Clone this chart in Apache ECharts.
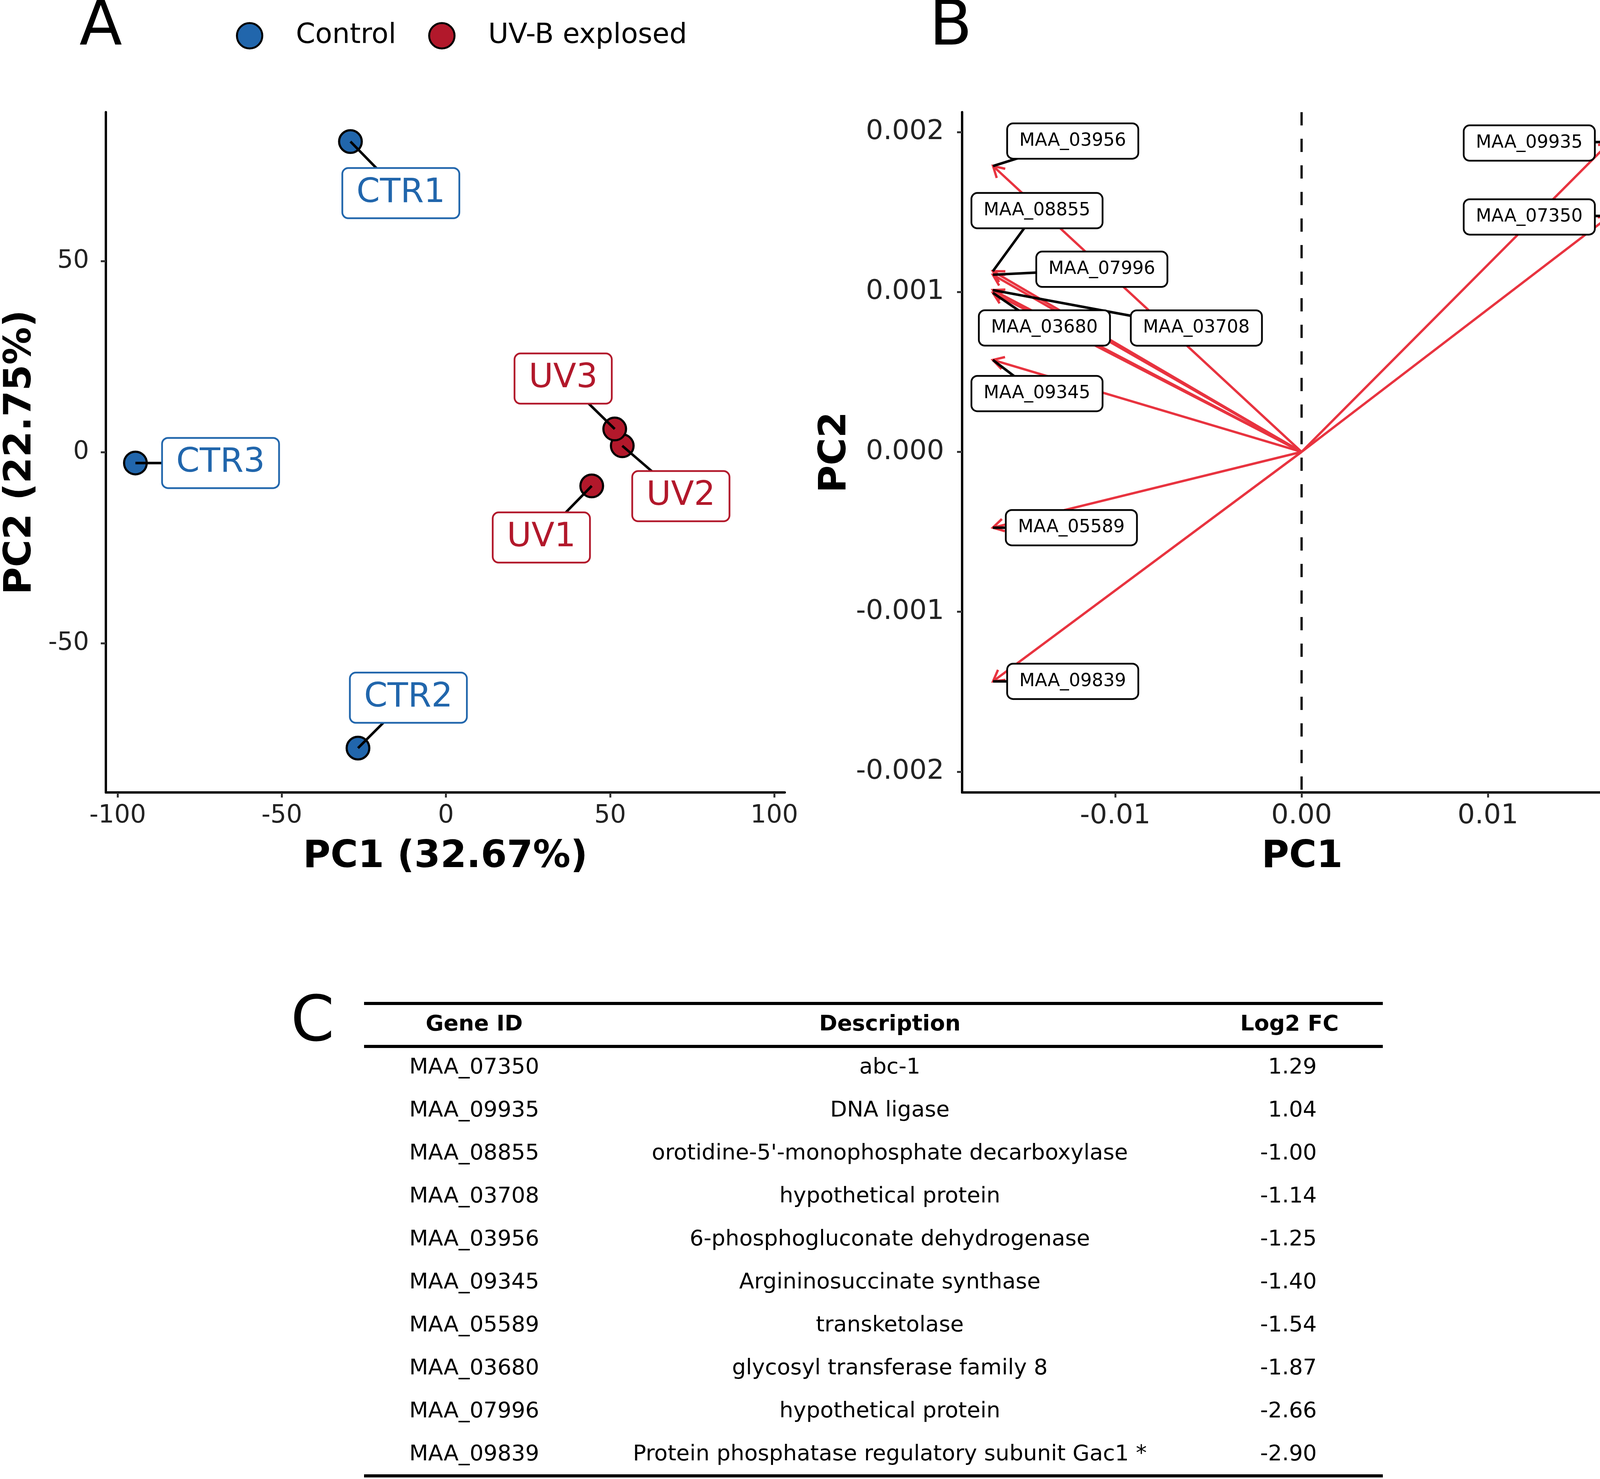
<!DOCTYPE html>
<html><head><meta charset="utf-8">
<script src="https://cdn.jsdelivr.net/npm/echarts@6/dist/echarts.min.js"></script>
<style>html,body{margin:0;padding:0;background:#fff}#c{width:4212px;height:3785px}</style>
</head><body><div id="c"></div>
<script>
// ---------------- data ----------------
const sampleNames = ['CTR1', 'CTR2', 'CTR3', 'UV1', 'UV2', 'UV3'];
const sampleGroup = ['Control', 'Control', 'Control', 'UV-B explosed', 'UV-B explosed', 'UV-B explosed'];
const samplePC1 = [-29.1, -26.8, -94.6, 44.4, 53.7, 51.4];
const samplePC2 = [81.3, -77.4, -2.8, -8.8, 1.7, 6.1];
const groups = ['Control', 'UV-B explosed'];
const pcaXTitle = 'PC1 (32.67%)';
const pcaYTitle = 'PC2 (22.75%)';

const geneNames = ['MAA_07350', 'MAA_09935', 'MAA_08855', 'MAA_03708', 'MAA_03956', 'MAA_09345', 'MAA_05589', 'MAA_03680', 'MAA_07996', 'MAA_09839'];
const loadPC1 = [0.01656, 0.01656, -0.01657, -0.01657, -0.01656, -0.01657, -0.01657, -0.01657, -0.01657, -0.01656];
const loadPC2 = [0.001477, 0.001939, 0.001130, 0.001012, 0.001788, 0.000575, -0.000474, 0.000995, 0.001108, -0.001435];

const tableHeader = ['Gene ID', 'Description', 'Log2 FC'];
const tableGeneId = ['MAA_07350', 'MAA_09935', 'MAA_08855', 'MAA_03708', 'MAA_03956', 'MAA_09345', 'MAA_05589', 'MAA_03680', 'MAA_07996', 'MAA_09839'];
const tableDesc = ['abc-1', 'DNA ligase', "orotidine-5'-monophosphate decarboxylase", 'hypothetical protein', '6-phosphogluconate dehydrogenase', 'Argininosuccinate synthase', 'transketolase', 'glycosyl transferase family 8', 'hypothetical protein', 'Protein phosphatase regulatory subunit Gac1 *'];
const tableLog2FC = [1.29, 1.04, -1.00, -1.14, -1.25, -1.40, -1.54, -1.87, -2.66, -2.90];

const ticksAx = [-100, -50, 0, 50, 100];
const ticksAy = [-50, 0, 50];
const ticksBx = [-0.01, 0, 0.01];
const ticksBy = [-0.002, -0.001, 0, 0.001, 0.002];

// ---------------- layout / style ----------------
const FONT = 'DejaVu Sans';
const groupColor = { 'Control': '#2166AC', 'UV-B explosed': '#B2182B' };
const arrowColor = '#E8333F';
// label box offsets (px, from point / arrow tip to label centre) — repel layout
const labelOffA = { CTR1: [129, 132], CTR2: [129, -129], CTR3: [218, 0], UV1: [-129, 132], UV2: [150, 129], UV3: [-132, -129] };
const labelOffB = { MAA_03956: [204, -64], MAA_08855: [113, -155], MAA_07996: [279, -14], MAA_03708: [521, 97], MAA_03680: [132, 90], MAA_09345: [113, 86], MAA_05589: [201, 0], MAA_09839: [204, 0], MAA_09935: [-207, 3], MAA_07350: [-207, 3] };

const mctx = document.createElement('canvas').getContext('2d');
function textW(t, size, weight) { mctx.font = (weight || 'normal') + ' ' + size + 'px "' + FONT + '"'; return mctx.measureText(t).width; }
function boxEdge(p, c, hw, hh) {
  const dx = p[0] - c[0], dy = p[1] - c[1];
  const tx = dx === 0 ? Infinity : hw / Math.abs(dx);
  const ty = dy === 0 ? Infinity : hh / Math.abs(dy);
  const t = Math.min(tx, ty, 1);
  return [c[0] + dx * t, c[1] + dy * t];
}

function axisBase(labelSize) {
  return {
    type: 'value',
    nameLocation: 'middle',
    nameTextStyle: { fontSize: 96, fontWeight: 'bold', color: '#000', fontFamily: FONT },
    axisLine: { show: true, onZero: false, lineStyle: { color: '#000', width: 6 } },
    axisTick: { show: true, length: 13, lineStyle: { color: '#333', width: 5 } },
    axisLabel: { fontSize: labelSize, color: '#222', fontFamily: FONT },
    splitLine: { show: false }
  };
}

const xA = Object.assign(axisBase(64), { gridIndex: 0, min: -103.6, max: 103.2, name: pcaXTitle, nameGap: 118 });
xA.axisLabel = Object.assign(xA.axisLabel, { margin: 28, customValues: ticksAx });
xA.axisTick = Object.assign(xA.axisTick, { customValues: ticksAx });
const yA = Object.assign(axisBase(64), { gridIndex: 0, min: -89, max: 89, name: pcaYTitle, nameGap: 170 });
yA.axisLabel = Object.assign(yA.axisLabel, { margin: 43, customValues: ticksAy });
yA.axisTick = Object.assign(yA.axisTick, { customValues: ticksAy });
const xB = Object.assign(axisBase(70), { gridIndex: 1, min: -0.01822, max: 0.01828, name: 'PC1', nameGap: 118 });
xB.axisLabel = Object.assign(xB.axisLabel, { margin: 26, customValues: ticksBx, formatter: v => v.toFixed(2) });
xB.axisTick = Object.assign(xB.axisTick, { customValues: ticksBx });
const yB = Object.assign(axisBase(70), { gridIndex: 1, min: -0.00213, max: 0.002125, name: 'PC2', nameGap: 274 });
yB.axisLabel = Object.assign(yB.axisLabel, { margin: 46, customValues: ticksBy, formatter: v => v.toFixed(3) });
yB.axisTick = Object.assign(yB.axisTick, { customValues: ticksBy });

const series = [];
groups.forEach(g => {
  const d = [];
  sampleNames.forEach((n, i) => { if (sampleGroup[i] === g) d.push([samplePC1[i], samplePC2[i]]); });
  series.push({
    name: g, type: 'scatter', xAxisIndex: 0, yAxisIndex: 0, data: d, z: 2,
    symbol: 'circle', symbolSize: 58,
    itemStyle: { color: groupColor[g], borderColor: '#000', borderWidth: 5.5, opacity: 1 },
    emphasis: { disabled: true }
  });
});
// sample labels (panel A)
const fA = 86, padA = [19, 34];
series.push({
  type: 'custom', xAxisIndex: 0, yAxisIndex: 0, z: 5, clip: false, silent: true,
  data: sampleNames.map((n, i) => [samplePC1[i], samplePC2[i]]),
  renderItem(params, api) {
    const i = params.dataIndex;
    const p = api.coord([api.value(0), api.value(1)]);
    const name = sampleNames[i];
    const col = groupColor[sampleGroup[i]];
    const off = labelOffA[name];
    const c = [p[0] + off[0], p[1] + off[1]];
    const hw = textW(name, fA) / 2 + padA[1], hh = fA / 2 + padA[0];
    const b = boxEdge(p, c, hw, hh);
    return { type: 'group', children: [
      { type: 'line', shape: { x1: p[0], y1: p[1], x2: b[0], y2: b[1] }, style: { stroke: '#000', lineWidth: 6.5 } },
      { type: 'text', x: c[0], y: c[1], style: { text: name, fill: col, fontSize: fA, fontFamily: FONT, lineHeight: fA, align: 'center', verticalAlign: 'middle', backgroundColor: '#fff', borderColor: col, borderWidth: 4.5, borderRadius: 13, padding: padA } }
    ] };
  }
});
// dashed zero line (panel B)
series.push({
  type: 'custom', xAxisIndex: 1, yAxisIndex: 1, z: 1, silent: true, clip: false,
  data: [[0, 0]],
  renderItem(params, api) {
    const p = api.coord([0, 0]);
    const cs = params.coordSys;
    return { type: 'line', shape: { x1: p[0], y1: cs.y, x2: p[0], y2: cs.y + cs.height }, style: { stroke: '#1a1a1a', lineWidth: 6, lineDash: [34, 34], fill: 'none' } };
  }
});
// loading arrows
series.push({
  type: 'custom', xAxisIndex: 1, yAxisIndex: 1, z: 3, silent: true, clip: false,
  data: geneNames.map((n, i) => [loadPC1[i], loadPC2[i]]),
  renderItem(params, api) {
    const o = api.coord([0, 0]);
    const t = api.coord([api.value(0), api.value(1)]);
    const ang = Math.atan2(t[1] - o[1], t[0] - o[0]);
    const L = 32, a = Math.PI / 6;
    const h1 = [t[0] - L * Math.cos(ang - a), t[1] - L * Math.sin(ang - a)];
    const h2 = [t[0] - L * Math.cos(ang + a), t[1] - L * Math.sin(ang + a)];
    return { type: 'group', children: [
      { type: 'line', shape: { x1: o[0], y1: o[1], x2: t[0], y2: t[1] }, style: { stroke: arrowColor, lineWidth: 6, fill: 'none' } },
      { type: 'polyline', shape: { points: [h1, t, h2] }, style: { stroke: arrowColor, lineWidth: 6, fill: 'none' } }
    ] };
  }
});
// gene labels (panel B)
const fB = 46, padB = [20, 29];
series.push({
  type: 'custom', xAxisIndex: 1, yAxisIndex: 1, z: 6, silent: true, clip: false,
  data: geneNames.map((n, i) => [loadPC1[i], loadPC2[i]]),
  renderItem(params, api) {
    const i = params.dataIndex;
    const name = geneNames[i];
    const t = api.coord([api.value(0), api.value(1)]);
    const off = labelOffB[name];
    const c = [t[0] + off[0], t[1] + off[1]];
    const hw = textW(name, fB) / 2 + padB[1], hh = fB / 2 + padB[0];
    const b = boxEdge(t, c, hw, hh);
    return { type: 'group', children: [
      { type: 'line', shape: { x1: t[0], y1: t[1], x2: b[0], y2: b[1] }, style: { stroke: '#000', lineWidth: 6.5, fill: 'none' } },
      { type: 'text', x: c[0], y: c[1], style: { text: name, fill: '#000', fontSize: fB, fontFamily: FONT, lineHeight: fB, align: 'center', verticalAlign: 'middle', backgroundColor: '#fff', borderColor: '#000', borderWidth: 4.5, borderRadius: 13, padding: padB } }
    ] };
  }
});

// ---------------- panel letters & table (panel C) ----------------
const graphics = [];
const letters = [['A', 258, 72], ['B', 2434, 72], ['C', 800, 2621]];
letters.forEach(l => graphics.push({ type: 'text', x: l[1], y: l[2], style: { text: l[0], fontSize: 160, fontFamily: FONT, fill: '#000', align: 'center', verticalAlign: 'middle' } }));
const tL = 932, tR = 3540, lineT = 2568, lineH = 2678, lineBot = 3777, headY = 2622, row0 = 2732, rowH = 110.1;
const colGene = 1214, colDesc = 2278, colFCHead = 3301, colFCRight = 3371;
[lineT, lineH, lineBot].forEach(y => graphics.push({ type: 'rect', shape: { x: tL, y: y - 4, width: tR - tL, height: 8 }, style: { fill: '#000' } }));
const headX = [colGene, colDesc, colFCHead];
tableHeader.forEach((h, j) => graphics.push({ type: 'text', x: headX[j], y: headY, style: { text: h, fontSize: 56, fontWeight: 'bold', fontFamily: FONT, fill: '#000', align: 'center', verticalAlign: 'middle' } }));
tableGeneId.forEach((g, i) => {
  const y = row0 + rowH * i;
  graphics.push({ type: 'text', x: colGene, y: y, style: { text: g, fontSize: 56, fontFamily: FONT, fill: '#000', align: 'center', verticalAlign: 'middle' } });
  graphics.push({ type: 'text', x: colDesc, y: y, style: { text: tableDesc[i], fontSize: 56, fontFamily: FONT, fill: '#000', align: 'center', verticalAlign: 'middle' } });
  graphics.push({ type: 'text', x: colFCRight, y: y, style: { text: tableLog2FC[i].toFixed(2), fontSize: 56, fontFamily: FONT, fill: '#000', align: 'right', verticalAlign: 'middle' } });
});

const chart = echarts.init(document.getElementById('c'), null, { renderer: 'canvas' });
chart.setOption({
  backgroundColor: '#fff',
  animation: false,
  textStyle: { fontFamily: FONT },
  legend: {
    data: groups, top: 51, left: 599, itemWidth: 65, itemHeight: 65, itemGap: 82, icon: 'circle', selectedMode: false,
    itemStyle: { borderColor: '#000', borderWidth: 5 },
    textStyle: { fontSize: 71, color: '#000', fontFamily: FONT, padding: [0, 0, 0, 81] }
  },
  grid: [
    { left: 271, top: 287, width: 1738, height: 1741, containLabel: false, outerBoundsMode: 'none' },
    { left: 2463, top: 287, width: 1741, height: 1741, containLabel: false, outerBoundsMode: 'none' }
  ],
  xAxis: [xA, xB],
  yAxis: [yA, yB],
  series: series,
  graphic: graphics
});
</script></body></html>
